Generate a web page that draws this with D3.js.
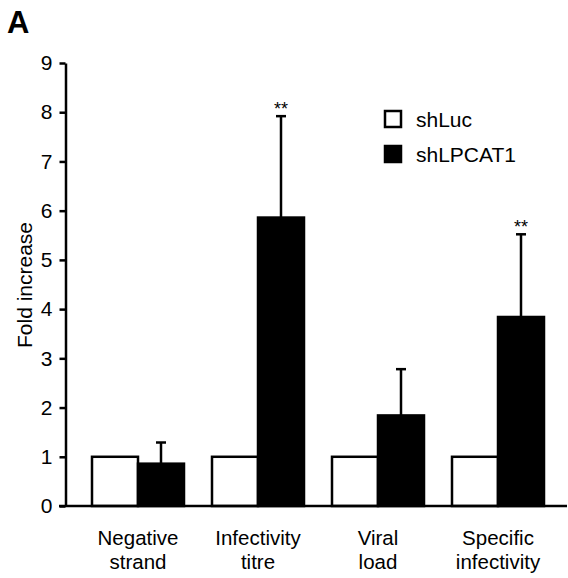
<!DOCTYPE html>
<html>
<head>
<meta charset="utf-8">
<script src="https://cdn.jsdelivr.net/npm/d3@7"></script>
<style>
  body { margin: 0; background: #fff; }
  svg { display: block; font-family: "Liberation Sans", Arial, sans-serif; }
</style>
</head>
<body>
<div id="chart"></div>
<script>
// data
const categories = ["Negative strand", "Infectivity titre", "Viral load", "Specific infectivity"];
const catLines = [["Negative", "strand"], ["Infectivity", "titre"], ["Viral", "load"], ["Specific", "infectivity"]];
const series = ["shLuc", "shLPCAT1"];
const shLuc = [1, 1, 1, 1];
const shLPCAT1 = [0.86, 5.86, 1.84, 3.84];
const errTop = [1.29, 7.92, 2.78, 5.52];   // upper end of error bar, shLPCAT1
const signif = ["", "**", "", "**"];
const yTicks = [0, 1, 2, 3, 4, 5, 6, 7, 8, 9];

const width = 568, height = 578;
const stroke = 2.5;

const svg = d3.select("#chart").append("svg")
    .attr("width", width)
    .attr("height", height);

const y = d3.scaleLinear().domain([0, 9]).range([506, 63]);

const x = d3.scaleBand()
    .domain(categories)
    .range([78, 558])
    .paddingInner(28 / 120)
    .paddingOuter(14 / 120);

const xs = d3.scaleBand().domain(series).range([0, x.bandwidth()]);

const color = d3.scaleOrdinal().domain(series).range(["#ffffff", "#000000"]);

// panel letter
svg.append("text")
    .text("A")
    .attr("x", 7)
    .attr("y", 33)
    .attr("font-size", "31px")
    .attr("font-weight", "bold")
    .attr("fill", "black");

// y axis
const yAxis = svg.append("g")
    .attr("transform", "translate(65.5,0)")
    .call(d3.axisLeft(y).tickValues(yTicks).tickSize(6).tickPadding(7).tickSizeOuter(0));
yAxis.select(".domain").attr("stroke", "black").attr("stroke-width", stroke);
yAxis.selectAll(".tick line").attr("stroke", "black").attr("stroke-width", stroke);
yAxis.selectAll(".tick text")
    .attr("font-size", "21px")
    .attr("font-family", "Liberation Sans, Arial, sans-serif")
    .attr("fill", "black");

svg.append("text")
    .text("Fold increase")
    .attr("transform", "translate(32,285) rotate(-90)")
    .attr("text-anchor", "middle")
    .attr("font-size", "21px")
    .attr("fill", "black");

// bars
const rows = categories.map((c, i) => ({cat: c, i: i, vals: [shLuc[i], shLPCAT1[i]]}));

const groups = svg.selectAll("g.grp")
    .data(rows)
    .join("g")
    .attr("class", "grp")
    .attr("transform", d => `translate(${x(d.cat)},0)`);

groups.selectAll("rect")
    .data(d => series.map((s, k) => ({s: s, v: d.vals[k]})))
    .join("rect")
    .attr("x", d => xs(d.s))
    .attr("y", d => y(d.v))
    .attr("width", xs.bandwidth())
    .attr("height", d => y(0) - y(d.v))
    .attr("fill", d => color(d.s))
    .attr("stroke", "black")
    .attr("stroke-width", stroke);

// error bars on shLPCAT1
const cx = d => x(d.cat) + xs("shLPCAT1") + xs.bandwidth() / 2;
svg.selectAll("line.err")
    .data(rows)
    .join("line")
    .attr("class", "err")
    .attr("x1", cx).attr("x2", cx)
    .attr("y1", d => y(shLPCAT1[d.i]))
    .attr("y2", d => y(errTop[d.i]))
    .attr("stroke", "black")
    .attr("stroke-width", stroke);
svg.selectAll("line.cap")
    .data(rows)
    .join("line")
    .attr("class", "cap")
    .attr("x1", d => cx(d) - 5).attr("x2", d => cx(d) + 5)
    .attr("y1", d => y(errTop[d.i]))
    .attr("y2", d => y(errTop[d.i]))
    .attr("stroke", "black")
    .attr("stroke-width", stroke);

svg.selectAll("text.sig")
    .data(rows.filter(d => signif[d.i] !== ""))
    .join("text")
    .attr("class", "sig")
    .text(d => signif[d.i])
    .attr("x", cx)
    .attr("y", d => y(errTop[d.i]) - 1)
    .attr("text-anchor", "middle")
    .attr("font-size", "18px")
    .attr("fill", "black");

// x axis line
svg.append("line")
    .attr("x1", 59).attr("x2", 567)
    .attr("y1", y(0)).attr("y2", y(0))
    .attr("stroke", "black")
    .attr("stroke-width", stroke);

// category labels
const labels = svg.selectAll("text.cat")
    .data(rows)
    .join("text")
    .attr("class", "cat")
    .attr("text-anchor", "middle")
    .attr("font-size", "20.5px")
    .attr("fill", "black");
labels.selectAll("tspan")
    .data(d => catLines[d.i].map(t => ({t: t, c: x(d.cat) + x.bandwidth() / 2})))
    .join("tspan")
    .attr("x", d => d.c)
    .attr("y", (d, k) => 545 + k * 24)
    .text(d => d.t);

// legend
const legend = svg.append("g").attr("transform", "translate(385,0)");
const legY = d3.scalePoint().domain(series).range([111, 146]);
legend.selectAll("rect")
    .data(series)
    .join("rect")
    .attr("x", 0)
    .attr("y", d => legY(d))
    .attr("width", 16)
    .attr("height", 16)
    .attr("fill", d => color(d))
    .attr("stroke", "black")
    .attr("stroke-width", stroke);
legend.selectAll("text")
    .data(series)
    .join("text")
    .text(d => d)
    .attr("x", 31)
    .attr("y", d => legY(d) + 16)
    .attr("font-size", "21px")
    .attr("fill", "black");
</script>
</body>
</html>
